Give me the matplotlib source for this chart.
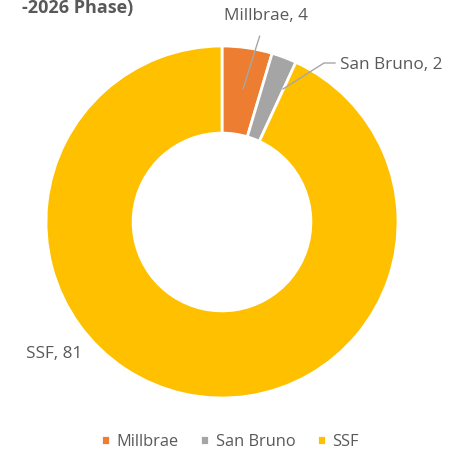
import matplotlib.pyplot as plt

# Dados
cidades = ['Millbrae', 'San Bruno', 'SSF']
valores = [4, 2, 81]
cores = ['#ED7D31', '#A5A5A5', '#FFC000']

plt.rcParams['font.family'] = ['Open Sans', 'DejaVu Sans']

fig = plt.figure(figsize=(4.6, 4.55), dpi=100)
ax = fig.add_axes([0, 0, 1, 1])

# Rosca (coordenadas em pixels, y para cima)
cx, cy, r = 222, 455 - 222, 176
wedges, _ = ax.pie(valores, colors=cores, startangle=90, counterclock=False,
                   center=(cx, cy), radius=r, frame=True,
                   wedgeprops=dict(width=r * 0.495, edgecolor='white', linewidth=2))
ax.set_xlim(0, 460)
ax.set_ylim(0, 455)
ax.set_aspect('equal')
ax.axis('off')

cor_texto = '#595959'
cor_linha = '#A6A6A6'
fs = 12.3

# Rótulos
ax.annotate(f'{cidades[0]}, {valores[0]}', xy=(243, 455 - 89), xytext=(266, 455 - 16),
            ha='center', va='center', fontsize=fs, color=cor_texto,
            arrowprops=dict(arrowstyle='-', color=cor_linha, lw=1,
                            shrinkA=7, shrinkB=0))
ax.plot([335, 324, 283], [455 - 63, 455 - 63, 455 - 89], color=cor_linha, lw=1)
ax.text(340, 455 - 65, f'{cidades[1]}, {valores[1]}', ha='left', va='center',
        fontsize=fs, color=cor_texto)
ax.text(26, 455 - 354, f'{cidades[2]}, {valores[2]}', ha='left', va='center',
        fontsize=fs, color=cor_texto)

# Título (cortado na imagem de referência)
fig.text(133 / 460, 1 - 13 / 455, '-2026 Phase)', ha='right', va='baseline',
         fontsize=13, fontweight='bold', color=cor_texto)

fig.legend(wedges, cidades, loc='center', bbox_to_anchor=(0.5, 1 - 442 / 455),
           ncol=3, frameon=False, fontsize=11.8, labelcolor=cor_texto,
           handlelength=0.55, handleheight=0.55, handletextpad=0.4,
           columnspacing=1.3)

fig.savefig('out.png', dpi=100)
